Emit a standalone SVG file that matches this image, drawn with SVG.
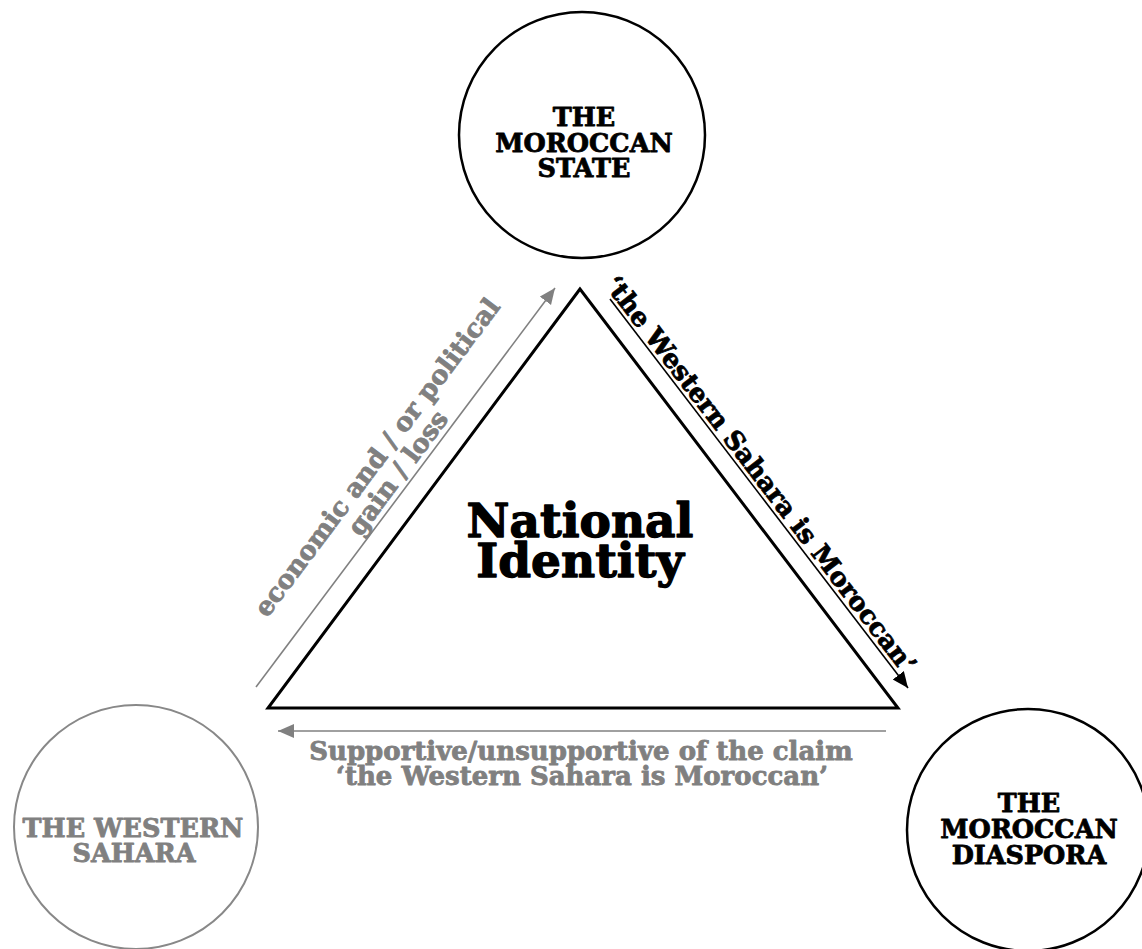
<svg xmlns="http://www.w3.org/2000/svg" width="1142" height="949" viewBox="0 0 1142 949">
<style>
  text { font-family: "DejaVu Serif", "Liberation Serif", serif; font-weight: bold; text-anchor: middle; stroke-linejoin: round; }
  .node { font-size: 25.5px; stroke-width: 0.8; }
  .blk { fill: #000; stroke: #000; }
  .gry { fill: #808080; stroke: #808080; }
  .lbl { font-size: 26px; stroke-width: 0.8; }
  .title { font-size: 47px; stroke-width: 1.3; }
  .circle-b { fill: #fff; stroke: #000; stroke-width: 2.5; }
  .circle-g { fill: #fff; stroke: #888; stroke-width: 2; }
</style>
<defs>
  <marker id="ah-g" markerUnits="userSpaceOnUse" markerWidth="17" markerHeight="15" refX="16" refY="7" orient="auto">
    <path d="M0,0 L16,7 L0,14 z" fill="#808080"/>
  </marker>
  <marker id="ah-b" markerUnits="userSpaceOnUse" markerWidth="17" markerHeight="15" refX="16" refY="7" orient="auto">
    <path d="M0,0 L16,7 L0,14 z" fill="#000"/>
  </marker>
</defs>
<rect width="1142" height="949" fill="#fff"/>

<g id="node-state">
  <circle class="circle-b" cx="582" cy="135" r="123"/>
  <text class="node blk" x="584" y="126">THE</text>
  <text class="node blk" x="584" y="151.5">MOROCCAN</text>
  <text class="node blk" x="584" y="177">STATE</text>
</g>

<g id="node-sahara">
  <circle class="circle-g" cx="136" cy="827" r="122"/>
  <text class="node gry" x="133" y="837">THE WESTERN</text>
  <text class="node gry" x="134" y="862">SAHARA</text>
</g>

<g id="node-diaspora">
  <circle class="circle-b" cx="1028" cy="830" r="121"/>
  <text class="node blk" x="1029" y="812">THE</text>
  <text class="node blk" x="1029" y="838">MOROCCAN</text>
  <text class="node blk" x="1029" y="864">DIASPORA</text>
</g>

<g id="node-identity">
  <polygon points="580,289 268,708 898,708" fill="none" stroke="#000" stroke-width="3" stroke-linejoin="miter"/>
  <text class="title blk" x="580" y="537">National</text>
  <text class="title blk" x="580" y="577">Identity</text>
</g>

<g id="connectors">
  <line x1="256" y1="687" x2="555" y2="288" stroke="#808080" stroke-width="1.6" marker-end="url(#ah-g)"/>
  <line x1="610" y1="299" x2="908" y2="688" stroke="#000" stroke-width="1.6" marker-end="url(#ah-b)"/>
  <line x1="886" y1="731" x2="278" y2="731" stroke="#808080" stroke-width="1.6" marker-end="url(#ah-g)"/>
</g>

<g id="labels">
  <g transform="translate(405.5 487.5) rotate(-53.1)">
    <text class="lbl gry" x="7" y="-32">economic and / or political</text>
    <text class="lbl gry" x="7" y="-6">gain / loss</text>
  </g>
  <g transform="translate(759 493.5) rotate(52.5)">
    <text class="lbl blk" x="-14" y="-4">‘the Western Sahara is Moroccan’</text>
  </g>
  <text class="lbl gry" x="581" y="760">Supportive/unsupportive of the claim</text>
  <text class="lbl gry" x="582" y="785">‘the Western Sahara is Moroccan’</text>
</g>
</svg>
